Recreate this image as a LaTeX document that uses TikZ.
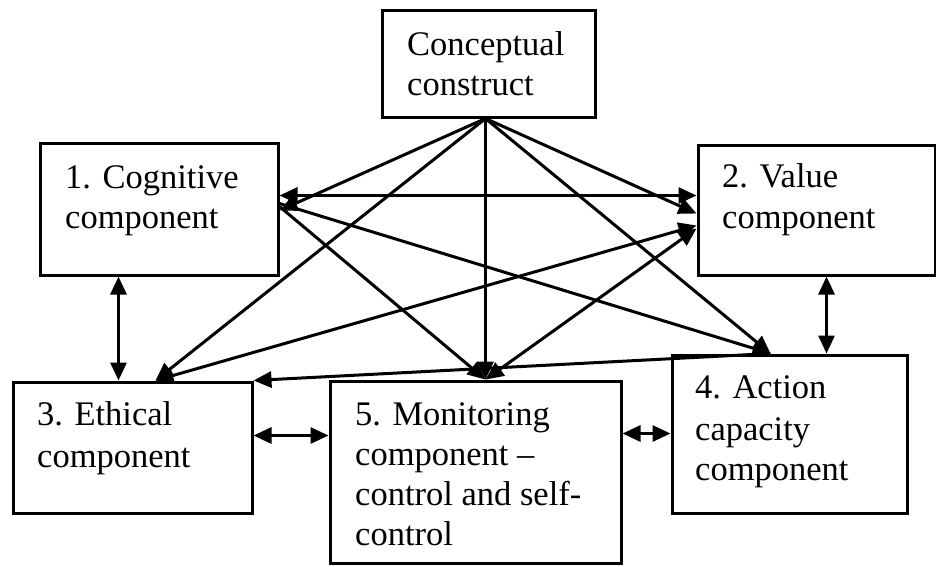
\documentclass[tikz,border=0pt]{standalone}
\usepackage{fontspec}
\setmainfont{Liberation Serif}
\usetikzlibrary{arrows.meta,calc}

\tikzset{
  box/.style={draw=black, line width=3pt, rectangle, inner sep=0pt, fill=white},
  lbl/.style={anchor=base west, inner sep=0pt, font=\fontsize{34.5}{40}\selectfont},
  link/.style={line width=3pt, draw=black},
  tipend/.style={link, -{Triangle[length=18pt,width=16pt]}},
  tipboth/.style={link, {Triangle[length=18pt,width=16pt]}-{Triangle[length=18pt,width=16pt]}}
}

\begin{document}
\begin{tikzpicture}[x=1pt,y=-1pt]
\useasboundingbox (0,0) rectangle (936,566);

% component boxes
\node[box, minimum width=213pt, minimum height=107pt] (b0) at (488.5,63.5) {};
\node[box, minimum width=238pt, minimum height=132pt] (b1) at (159,209) {};
\node[box, minimum width=237pt, minimum height=130pt] (b2) at (816.5,210) {};
\node[box, minimum width=239pt, minimum height=131pt] (b3) at (132.5,447.5) {};
\node[box, minimum width=235pt, minimum height=158pt] (b4) at (789.5,434) {};
\node[box, minimum width=291pt, minimum height=182pt] (b5) at (475.5,472) {};

% box texts
\node[lbl] (t0a) at (407,55) {Conceptual};
\node[lbl] (t0b) at (407,95) {construct};
\node[lbl] (t1a) at (65,188) {1. Cognitive};
\node[lbl] (t1b) at (65,228) {component};
\node[lbl] (t2a) at (722,187) {2. Value};
\node[lbl] (t2b) at (722,228) {component};
\node[lbl] (t3a) at (37,425) {3. Ethical};
\node[lbl] (t3b) at (37,467) {component};
\node[lbl] (t4a) at (695,398) {4. Action};
\node[lbl] (t4b) at (695,440) {capacity};
\node[lbl] (t4c) at (695,480) {component};
\node[lbl] (t5a) at (355,425) {5. Monitoring};
\node[lbl] (t5b) at (355,465) {component --};
\node[lbl] (t5c) at (355,505) {control and self-};
\node[lbl] (t5d) at (355,545) {control};

% attachment points on the box edges
\coordinate (apex) at ($(b0.south west)+(105,0)$);
\coordinate (r1a) at ($(b1.north east)+(0,54)$);
\coordinate (r1b) at ($(b1.north east)+(0,69)$);
\coordinate (r1c) at ($(b1.north east)+(0,62)$);
\coordinate (r1d) at ($(b1.north east)+(0,65)$);
\coordinate (s1) at ($(b1.south west)+(80,0)$);
\coordinate (l2a) at ($(b2.north west)+(0,52)$);
\coordinate (l2b) at ($(b2.north west)+(0,70)$);
\coordinate (l2c) at ($(b2.north west)+(0,82)$);
\coordinate (l2d) at ($(b2.north west)+(0,85)$);
\coordinate (s2) at ($(b2.south west)+(130,0)$);
\coordinate (n3a) at ($(b3.north west)+(107,0)$);
\coordinate (n3b) at ($(b3.north west)+(144,0)$);
\coordinate (n3c) at (b3.north east);
\coordinate (e3) at ($(b3.north east)+(0,55)$);
\coordinate (n4a) at ($(b4.north west)+(100,0)$);
\coordinate (n4b) at ($(b4.north west)+(156,0)$);
\coordinate (w4) at ($(b4.north west)+(0,80)$);
\coordinate (n5) at ($(b5.north west)+(157,0)$);
\coordinate (w5) at ($(b5.north west)+(0,56)$);
\coordinate (e5) at ($(b5.north east)+(0,54)$);

% links from the conceptual construct
\draw[tipend] (apex) -- (r1b);
\draw[tipend] (apex) -- (n3b);
\draw[tipend] (apex) -- (n5);
\draw[tipend] (apex) -- (l2b);
\draw[tipend] (apex) -- (n4a);

% cross links between components
\draw[tipboth] (r1a) -- (l2a);
\draw[tipend] (r1c) -- (n4a);
\draw[tipend] (r1d) -- (n5);
\draw[tipboth] (n3b) -- (l2c);
\draw[tipboth] (n5) -- (l2d);
\draw[tipend] (n4a) -- (n3c);

% neighbouring components
\draw[tipboth] (s1) -- (n3a);
\draw[tipboth] (s2) -- (n4b);
\draw[tipboth] (e3) -- (w5);
\draw[tipboth] (e5) -- (w4);
\end{tikzpicture}
\end{document}
